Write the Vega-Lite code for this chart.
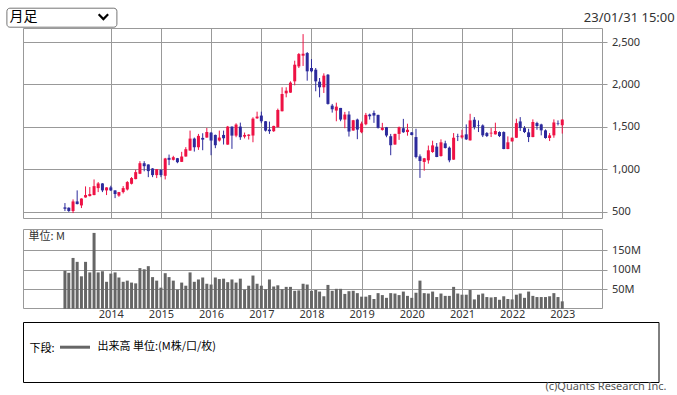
{
  "$schema": "https://vega.github.io/schema/vega-lite/v6.json",
  "background": "#ffffff",
  "padding": {"left": 5, "top": 7, "right": 5, "bottom": 2},
  "config": {
    "font": "Noto Sans",
    "view": {"stroke": "#999999", "strokeWidth": 1},
    "axis": {"gridColor": "#999999", "gridOpacity": 1, "gridWidth": 1, "labelColor": "#333333", "labelFontSize": 11, "labelFont": "Noto Sans", "tickColor": "#999999", "domain": false, "title": null}
  },
  "title": {"text": "23/01/31 15:00", "anchor": "end", "frame": "bounds", "orient": "top", "baseline": "alphabetic", "offset": -28.2, "dx": 7.7, "fontSize": 13, "fontWeight": "normal", "color": "#333333", "font": "Noto Sans"},
  "datasets": {
    "ohlc": [
      {"date":"2013-02-01","open":553,"high":604,"low":510,"close":537,"volume":97},
      {"date":"2013-03-01","open":549,"high":553,"low":500,"close":510,"volume":92},
      {"date":"2013-04-01","open":510,"high":647,"low":486,"close":623,"volume":130},
      {"date":"2013-05-01","open":623,"high":753,"low":588,"close":592,"volume":120},
      {"date":"2013-06-01","open":576,"high":660,"low":545,"close":657,"volume":83},
      {"date":"2013-07-01","open":670,"high":800,"low":668,"close":698,"volume":120},
      {"date":"2013-08-01","open":686,"high":792,"low":682,"close":710,"volume":93},
      {"date":"2013-09-01","open":698,"high":882,"low":696,"close":803,"volume":194},
      {"date":"2013-10-01","open":780,"high":851,"low":733,"close":835,"volume":93},
      {"date":"2013-11-01","open":835,"high":838,"low":733,"close":753,"volume":96},
      {"date":"2013-12-01","open":753,"high":790,"low":698,"close":788,"volume":69},
      {"date":"2014-01-01","open":788,"high":808,"low":745,"close":753,"volume":90},
      {"date":"2014-02-01","open":753,"high":755,"low":662,"close":710,"volume":93},
      {"date":"2014-03-01","open":692,"high":735,"low":678,"close":733,"volume":80},
      {"date":"2014-04-01","open":733,"high":804,"low":717,"close":780,"volume":69},
      {"date":"2014-05-01","open":764,"high":862,"low":752,"close":851,"volume":72},
      {"date":"2014-06-01","open":831,"high":910,"low":823,"close":898,"volume":67},
      {"date":"2014-07-01","open":886,"high":996,"low":884,"close":968,"volume":65},
      {"date":"2014-08-01","open":949,"high":1097,"low":945,"close":1073,"volume":104},
      {"date":"2014-09-01","open":1073,"high":1097,"low":978,"close":1038,"volume":101},
      {"date":"2014-10-01","open":1058,"high":1060,"low":909,"close":980,"volume":109},
      {"date":"2014-11-01","open":1011,"high":1015,"low":909,"close":933,"volume":81},
      {"date":"2014-12-01","open":933,"high":1005,"low":898,"close":1003,"volume":72},
      {"date":"2015-01-01","open":996,"high":1000,"low":909,"close":933,"volume":54},
      {"date":"2015-02-01","open":925,"high":1136,"low":882,"close":1129,"volume":91},
      {"date":"2015-03-01","open":1136,"high":1175,"low":1050,"close":1113,"volume":81},
      {"date":"2015-04-01","open":1113,"high":1160,"low":1105,"close":1144,"volume":72},
      {"date":"2015-05-01","open":1132,"high":1135,"low":1073,"close":1085,"volume":49},
      {"date":"2015-06-01","open":1089,"high":1207,"low":1087,"close":1152,"volume":67},
      {"date":"2015-07-01","open":1152,"high":1262,"low":1150,"close":1238,"volume":59},
      {"date":"2015-08-01","open":1222,"high":1457,"low":1220,"close":1363,"volume":93},
      {"date":"2015-09-01","open":1363,"high":1375,"low":1210,"close":1261,"volume":69},
      {"date":"2015-10-01","open":1261,"high":1418,"low":1230,"close":1395,"volume":75},
      {"date":"2015-11-01","open":1371,"high":1426,"low":1226,"close":1351,"volume":80},
      {"date":"2015-12-01","open":1375,"high":1488,"low":1373,"close":1441,"volume":64},
      {"date":"2016-01-01","open":1433,"high":1441,"low":1167,"close":1340,"volume":62},
      {"date":"2016-02-01","open":1406,"high":1410,"low":1250,"close":1285,"volume":80},
      {"date":"2016-03-01","open":1340,"high":1457,"low":1328,"close":1375,"volume":76},
      {"date":"2016-04-01","open":1406,"high":1457,"low":1293,"close":1367,"volume":77},
      {"date":"2016-05-01","open":1292,"high":1512,"low":1290,"close":1504,"volume":68},
      {"date":"2016-06-01","open":1504,"high":1506,"low":1242,"close":1398,"volume":75},
      {"date":"2016-07-01","open":1398,"high":1543,"low":1379,"close":1528,"volume":67},
      {"date":"2016-08-01","open":1504,"high":1551,"low":1348,"close":1379,"volume":77},
      {"date":"2016-09-01","open":1386,"high":1434,"low":1365,"close":1406,"volume":49},
      {"date":"2016-10-01","open":1395,"high":1414,"low":1352,"close":1410,"volume":59},
      {"date":"2016-11-01","open":1399,"high":1614,"low":1320,"close":1598,"volume":85},
      {"date":"2016-12-01","open":1602,"high":1680,"low":1595,"close":1622,"volume":64},
      {"date":"2017-01-01","open":1634,"high":1680,"low":1544,"close":1567,"volume":59},
      {"date":"2017-02-01","open":1567,"high":1570,"low":1446,"close":1457,"volume":50},
      {"date":"2017-03-01","open":1469,"high":1563,"low":1418,"close":1450,"volume":75},
      {"date":"2017-04-01","open":1450,"high":1514,"low":1442,"close":1512,"volume":57},
      {"date":"2017-05-01","open":1497,"high":1716,"low":1495,"close":1700,"volume":60},
      {"date":"2017-06-01","open":1685,"high":1967,"low":1683,"close":1888,"volume":50},
      {"date":"2017-07-01","open":1896,"high":1967,"low":1849,"close":1927,"volume":56},
      {"date":"2017-08-01","open":1904,"high":2037,"low":1902,"close":2022,"volume":56},
      {"date":"2017-09-01","open":2037,"high":2280,"low":1990,"close":2233,"volume":46},
      {"date":"2017-10-01","open":2213,"high":2370,"low":2194,"close":2358,"volume":47},
      {"date":"2017-11-01","open":2339,"high":2593,"low":2218,"close":2362,"volume":64},
      {"date":"2017-12-01","open":2370,"high":2382,"low":2045,"close":2155,"volume":62},
      {"date":"2018-01-01","open":2194,"high":2300,"low":2143,"close":2155,"volume":46},
      {"date":"2018-02-01","open":2174,"high":2194,"low":1920,"close":2037,"volume":48},
      {"date":"2018-03-01","open":2033,"high":2076,"low":1849,"close":1967,"volume":44},
      {"date":"2018-04-01","open":1967,"high":2131,"low":1900,"close":2104,"volume":32},
      {"date":"2018-05-01","open":2115,"high":2123,"low":1763,"close":1771,"volume":61},
      {"date":"2018-06-01","open":1751,"high":1771,"low":1669,"close":1708,"volume":46},
      {"date":"2018-07-01","open":1693,"high":1786,"low":1567,"close":1739,"volume":51},
      {"date":"2018-08-01","open":1724,"high":1724,"low":1567,"close":1587,"volume":51},
      {"date":"2018-09-01","open":1587,"high":1677,"low":1485,"close":1646,"volume":38},
      {"date":"2018-10-01","open":1646,"high":1685,"low":1387,"close":1446,"volume":45},
      {"date":"2018-11-01","open":1458,"high":1583,"low":1456,"close":1579,"volume":46},
      {"date":"2018-12-01","open":1587,"high":1598,"low":1356,"close":1469,"volume":40},
      {"date":"2019-01-01","open":1438,"high":1563,"low":1426,"close":1540,"volume":31},
      {"date":"2019-02-01","open":1532,"high":1665,"low":1520,"close":1642,"volume":31},
      {"date":"2019-03-01","open":1646,"high":1657,"low":1587,"close":1626,"volume":35},
      {"date":"2019-04-01","open":1665,"high":1693,"low":1548,"close":1634,"volume":25},
      {"date":"2019-05-01","open":1642,"high":1644,"low":1481,"close":1489,"volume":40},
      {"date":"2019-06-01","open":1465,"high":1548,"low":1457,"close":1489,"volume":35},
      {"date":"2019-07-01","open":1497,"high":1500,"low":1379,"close":1399,"volume":28},
      {"date":"2019-08-01","open":1391,"high":1418,"low":1167,"close":1285,"volume":40},
      {"date":"2019-09-01","open":1293,"high":1420,"low":1290,"close":1418,"volume":39},
      {"date":"2019-10-01","open":1418,"high":1505,"low":1348,"close":1497,"volume":35},
      {"date":"2019-11-01","open":1485,"high":1595,"low":1430,"close":1438,"volume":44},
      {"date":"2019-12-01","open":1440,"high":1538,"low":1397,"close":1467,"volume":33},
      {"date":"2020-01-01","open":1436,"high":1440,"low":1401,"close":1405,"volume":28},
      {"date":"2020-02-01","open":1381,"high":1479,"low":1130,"close":1146,"volume":41},
      {"date":"2020-03-01","open":1154,"high":1177,"low":900,"close":1099,"volume":72},
      {"date":"2020-04-01","open":1088,"high":1135,"low":985,"close":1131,"volume":40},
      {"date":"2020-05-01","open":1107,"high":1281,"low":1068,"close":1225,"volume":39},
      {"date":"2020-06-01","open":1205,"high":1338,"low":1195,"close":1283,"volume":44},
      {"date":"2020-07-01","open":1268,"high":1311,"low":1144,"close":1146,"volume":30},
      {"date":"2020-08-01","open":1158,"high":1354,"low":1150,"close":1319,"volume":39},
      {"date":"2020-09-01","open":1307,"high":1338,"low":1246,"close":1252,"volume":33},
      {"date":"2020-10-01","open":1256,"high":1270,"low":1084,"close":1107,"volume":33},
      {"date":"2020-11-01","open":1115,"high":1428,"low":1113,"close":1373,"volume":56},
      {"date":"2020-12-01","open":1392,"high":1420,"low":1334,"close":1386,"volume":39},
      {"date":"2021-01-01","open":1377,"high":1467,"low":1362,"close":1401,"volume":36},
      {"date":"2021-02-01","open":1413,"high":1530,"low":1346,"close":1354,"volume":36},
      {"date":"2021-03-01","open":1342,"high":1655,"low":1340,"close":1577,"volume":48},
      {"date":"2021-04-01","open":1585,"high":1616,"low":1471,"close":1499,"volume":24},
      {"date":"2021-05-01","open":1520,"high":1577,"low":1440,"close":1514,"volume":36},
      {"date":"2021-06-01","open":1518,"high":1530,"low":1381,"close":1401,"volume":39},
      {"date":"2021-07-01","open":1428,"high":1440,"low":1381,"close":1393,"volume":30},
      {"date":"2021-08-01","open":1423,"high":1487,"low":1381,"close":1432,"volume":29},
      {"date":"2021-09-01","open":1413,"high":1550,"low":1411,"close":1452,"volume":30},
      {"date":"2021-10-01","open":1440,"high":1448,"low":1381,"close":1393,"volume":23},
      {"date":"2021-11-01","open":1440,"high":1448,"low":1238,"close":1240,"volume":32},
      {"date":"2021-12-01","open":1240,"high":1389,"low":1238,"close":1319,"volume":25},
      {"date":"2022-01-01","open":1330,"high":1375,"low":1328,"close":1373,"volume":24},
      {"date":"2022-02-01","open":1373,"high":1597,"low":1371,"close":1545,"volume":36},
      {"date":"2022-03-01","open":1565,"high":1616,"low":1452,"close":1487,"volume":39},
      {"date":"2022-04-01","open":1487,"high":1510,"low":1428,"close":1440,"volume":28},
      {"date":"2022-05-01","open":1436,"high":1479,"low":1322,"close":1381,"volume":44},
      {"date":"2022-06-01","open":1381,"high":1589,"low":1379,"close":1558,"volume":33},
      {"date":"2022-07-01","open":1546,"high":1561,"low":1467,"close":1511,"volume":30},
      {"date":"2022-08-01","open":1530,"high":1538,"low":1401,"close":1460,"volume":30},
      {"date":"2022-09-01","open":1460,"high":1471,"low":1362,"close":1370,"volume":30},
      {"date":"2022-10-01","open":1370,"high":1428,"low":1334,"close":1401,"volume":32},
      {"date":"2022-11-01","open":1401,"high":1589,"low":1373,"close":1553,"volume":40},
      {"date":"2022-12-01","open":1542,"high":1577,"low":1518,"close":1536,"volume":30},
      {"date":"2023-01-01","open":1520,"high":1589,"low":1422,"close":1587,"volume":19}
    ]
  },
  "resolve": {"legend": {"color": "independent"}},
  "spacing": 1,
  "vconcat": [
    {
      "bounds": "flush",
      "spacing": 11,
      "vconcat": [
        {
          "width": 579,
          "height": 190,
          "data": {"name": "ohlc"},
          "encoding": {
            "x": {"field": "date", "type": "temporal",
              "scale": {"type": "utc", "domain": [{"year": 2012, "month": 5, "date": 8, "utc": true}, {"year": 2023, "month": 9, "date": 11, "utc": true}]},
              "axis": {"values": [{"year": 2014, "utc": true}, {"year": 2015, "utc": true}, {"year": 2016, "utc": true}, {"year": 2017, "utc": true}, {"year": 2018, "utc": true}, {"year": 2019, "utc": true}, {"year": 2020, "utc": true}, {"year": 2021, "utc": true}, {"year": 2022, "utc": true}, {"year": 2023, "utc": true}],
                "labels": false, "ticks": false, "grid": true}},
            "color": {"condition": {"test": "datum.close >= datum.open", "value": "#ee1144"}, "value": "#2c2a9c"}
          },
          "layer": [
            {
              "mark": {"type": "rule", "strokeWidth": 1},
              "encoding": {
                "y": {"field": "low", "type": "quantitative",
                  "scale": {"domain": [428, 2665], "zero": false, "nice": false},
                  "axis": {"orient": "right", "values": [500, 750, 1000, 1250, 1500, 1750, 2000, 2250, 2500], "format": ",d", "grid": true, "tickSize": 5, "labelPadding": 4.5}},
                "y2": {"field": "high"}
              }
            },
            {
              "mark": {"type": "bar", "size": 3},
              "encoding": {
                "y": {"field": "open", "type": "quantitative"},
                "y2": {"field": "close"}
              }
            }
          ]
        },
        {
          "width": 579,
          "height": 79,
          "data": {"name": "ohlc"},
          "mark": {"type": "bar", "size": 3, "color": "#666666"},
          "encoding": {
            "x": {"field": "date", "type": "temporal",
              "scale": {"type": "utc", "domain": [{"year": 2012, "month": 5, "date": 8, "utc": true}, {"year": 2023, "month": 9, "date": 11, "utc": true}]},
              "axis": {"values": [{"year": 2014, "utc": true}, {"year": 2015, "utc": true}, {"year": 2016, "utc": true}, {"year": 2017, "utc": true}, {"year": 2018, "utc": true}, {"year": 2019, "utc": true}, {"year": 2020, "utc": true}, {"year": 2021, "utc": true}, {"year": 2022, "utc": true}, {"year": 2023, "utc": true}],
                "format": "%Y", "ticks": false, "grid": true, "labelPadding": 0, "labelColor": "#333333"}},
            "y": {"field": "volume", "type": "quantitative",
              "scale": {"domain": [2, 204], "zero": false, "nice": false},
              "axis": {"orient": "right", "values": [50, 100, 150], "labelExpr": "datum.value + 'M'", "grid": true, "tickSize": 5, "labelPadding": 4.5,
                "title": "単位: M", "titleAngle": 0, "titleX": -574, "titleY": 7.5, "titleAlign": "left", "titleBaseline": "middle", "titleFontWeight": "normal", "titleFontSize": 11, "titleFont": "Noto Sans CJK JP", "titleColor": "#333333"}}
          }
        }
      ]
    },
    {
      "width": 635.5,
      "height": 60,
      "view": {"stroke": "#000000", "strokeWidth": 1},
      "title": {"text": "(c)Quants Research Inc.", "orient": "bottom", "anchor": "end", "frame": "group", "dx": 8, "offset": -1, "baseline": "top", "fontSize": 11, "fontWeight": "normal", "color": "#555555", "font": "Noto Sans"},
      "layer": [
        {
          "data": {"values": [{"series": "出来高 単位:(M株/口/枚)"}]},
          "mark": {"type": "line", "strokeWidth": 3},
          "encoding": {
            "color": {"field": "series", "type": "nominal", "scale": {"range": ["#666666"]},
              "legend": {"title": "下段:", "orient": "none", "legendX": 6.5, "legendY": 8.7, "titleOrient": "left", "titleAnchor": "end", "titleBaseline": "bottom", "titleFontSize": 11, "titleFontWeight": "normal", "titleFont": "Noto Sans CJK JP", "titleColor": "#000000", "titlePadding": 3,
                "labelFont": "Noto Sans CJK JP", "labelFontSize": 11, "labelColor": "#000000", "labelOffset": 6, "symbolType": "stroke", "symbolSize": 900, "symbolStrokeWidth": 3, "padding": 0}}
          }
        },
        {
          "data": {"values": [{"period": "月足"}]},
          "mark": {"type": "point", "opacity": 0, "filled": false, "color": "#000000", "strokeWidth": 2.2},
          "encoding": {
            "shape": {"field": "period", "type": "nominal", "scale": {"range": ["M-1,-0.5L0,0.5L1,-0.5"]},
              "legend": {"title": "月足", "orient": "none", "legendX": -16.6, "legendY": -20.3, "titleOrient": "left", "titleAnchor": "middle", "titleBaseline": "middle", "titleFontSize": 14, "titleFontWeight": "normal", "titleFont": "Noto Sans CJK JP", "titleColor": "#000000", "titlePadding": 60,
                "labelExpr": "''", "labelFontSize": 10, "labelOffset": 2, "symbolSize": 90, "symbolStrokeWidth": 2.2, "symbolStrokeColor": "#000000", "symbolFillColor": "transparent",
                "strokeColor": "#767676", "fillColor": "#ffffff", "cornerRadius": 3, "padding": 3}}
          }
        }
      ]
    }
  ]
}
